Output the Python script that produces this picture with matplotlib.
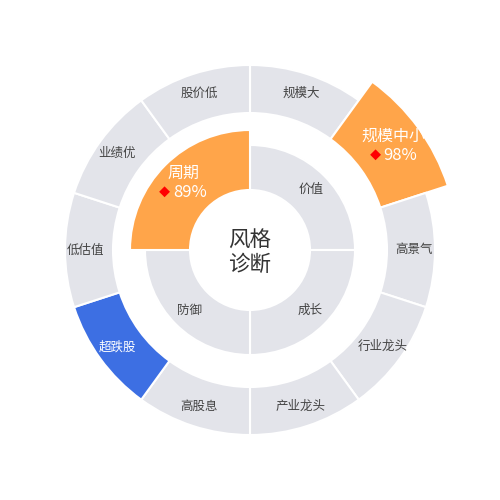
import matplotlib
matplotlib.use("Agg")
import matplotlib.pyplot as plt
import numpy as np

plt.rcParams['font.family'] = ['Noto Sans CJK SC', 'DejaVu Sans']

# inner ring: 4 style quadrants, clockwise from top
inner_labels = ['价值', '成长', '防御', '周期']
inner_values = [None, None, None, 89]
inner_state = ['normal', 'normal', 'normal', 'hot']

# outer ring: 10 factor segments, clockwise from top
outer_labels = ['规模大', '规模中小', '高景气', '行业龙头', '产业龙头',
                '高股息', '超跌股', '低估值', '业绩优', '股价低']
outer_values = [None, 98, None, None, None, None, None, None, None, None]
outer_state = ['normal', 'hot', 'normal', 'normal', 'normal',
               'normal', 'cold', 'normal', 'normal', 'normal']

center_text = '风格\n诊断'

colors = {'normal': '#e3e4ea', 'hot': '#ffa54a', 'cold': '#3d6fe3'}
GRAY_TXT = '#444444'

# radii in pixels (axes spans the whole 500px figure)
IN_R0, IN_R1, IN_HOT = 60, 105, 120
OUT_R0, OUT_R1, OUT_HOT = 137, 185, 208

fig = plt.figure(figsize=(5, 5), dpi=100)
ax = fig.add_axes([0, 0, 1, 1], projection='polar')
ax.set_theta_zero_location('N')
ax.set_theta_direction(-1)
ax.set_ylim(0, 250)
ax.axis('off')


def draw_ring(labels, values, states, r0, r1, r_hot):
    n = len(labels)
    w = 2 * np.pi / n
    theta = np.arange(n) * w + w / 2
    tops = [r_hot if s == 'hot' else r1 for s in states]
    heights = [t - r0 for t in tops]
    ax.bar(theta, heights, width=w, bottom=r0,
           color=[colors[s] for s in states],
           edgecolor='white', linewidth=1.5)
    for th, lab, val, s, top in zip(theta, labels, values, states, tops):
        rm = r0 + 0.57 * (top - r0)
        if s == 'hot':
            ax.annotate(lab, (th, rm), xytext=(0, 7), textcoords='offset points',
                        ha='center', va='center', fontsize=11.5, color='white')
            ax.annotate('%d%%' % val, (th, rm), xytext=(4.5, -6.8),
                        textcoords='offset points',
                        ha='center', va='center', fontsize=12, color='white')
            ax.annotate('◆', (th, rm), xytext=(-13.3, -6.8),
                        textcoords='offset points',
                        ha='center', va='center', fontsize=8, color='red')
        else:
            ax.text(th, rm, lab, ha='center', va='center', fontsize=9,
                    color='white' if s == 'cold' else GRAY_TXT)


draw_ring(inner_labels, inner_values, inner_state, IN_R0, IN_R1, IN_HOT)
draw_ring(outer_labels, outer_values, outer_state, OUT_R0, OUT_R1, OUT_HOT)

ax.annotate(center_text, (0, 0), xytext=(0, -2), textcoords='offset points',
            ha='center', va='center', fontsize=15.5,
            color='#333333', linespacing=1.1)

fig.savefig('out.png', dpi=100)
